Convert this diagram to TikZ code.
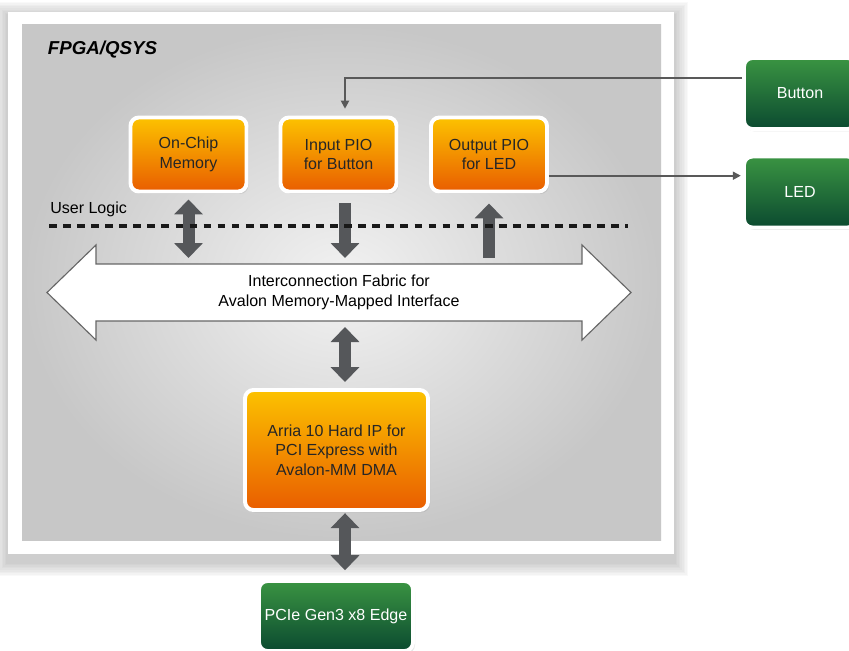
\documentclass[tikz,border=0pt]{standalone}
\usepackage{fontspec}
\setmainfont{Liberation Sans}
\usetikzlibrary{arrows.meta,shadows}
\definecolor{orangetop}{HTML}{FCC200}
\definecolor{orangebot}{HTML}{E95D00}
\definecolor{greentop}{HTML}{3A9442}
\definecolor{greenbot}{HTML}{0B4A30}
\definecolor{busgray}{HTML}{55575A}

\begin{document}
\begin{tikzpicture}[
  font=\fontsize{11.4}{13.8}\selectfont,
  ip/.style={draw=white, line width=2.8pt, rounded corners=6pt,
             top color=orangetop, bottom color=orangebot, text=black!85,
             align=center, minimum width=2.9cm, minimum height=1.85cm,
             drop shadow={opacity=0.2, shadow xshift=0.05cm, shadow yshift=-0.06cm}},
  pin/.style={ip, top color=greentop, bottom color=greenbot, text=white},
  bustip/.tip={Triangle[width=0.7cm, length=0.375cm]},
  bus/.style={draw=busgray, line width=0.3cm, shorten <=0.15cm, shorten >=0.15cm},
  wire/.style={draw=black!65, line width=1.3pt, -{Triangle[width=0.2cm, length=0.2cm]}}
]
\useasboundingbox (0,0) rectangle (21.225,-16.25);

% board and FPGA area
\foreach \d in {0.04,0.08,...,0.4}
  \fill[black, opacity=0.022] (0.2-\d,-0.4+\d) rectangle (16.85+\d,-14.05-\d);
\fill[white] (0.2,-0.3) rectangle (16.85,-13.85);
\shade[inner color=black!5, outer color=black!22] (0.55,-0.6) rectangle (16.525,-13.5);
\node[anchor=west, font=\fontsize{13.3}{16}\selectfont\bfseries\itshape] (fpga) at (1.075,-1.25) {FPGA/QSYS};

% interconnect
\draw[fill=white, draw=black!60, line width=0.8pt]
  (2.4,-6.6) -- (14.55,-6.6) -- (14.55,-6.125) -- (15.775,-7.3125) -- (14.55,-8.5)
  -- (14.55,-8.025) -- (2.4,-8.025) -- (2.4,-8.5) -- (1.175,-7.3125) -- (2.4,-6.125) -- cycle;
\node[align=center, inner sep=0pt, outer sep=0pt, minimum width=12.15cm, minimum height=1.425cm]
  (fabric) at (8.475,-7.3125) {Interconnection Fabric for\\Avalon Memory-Mapped Interface};

% components
\node[ip] (onchip) at (4.7125,-3.8625) {On-Chip\\Memory};
\node[ip] (inpio) at (8.4625,-3.8625)  {Input PIO\\for Button};
\node[ip] (outpio) at (12.225,-3.8625) {Output PIO\\for LED};
\node[ip, minimum width=4.575cm, minimum height=3.0cm] (arria) at (8.4125,-11.25)
  {Arria 10 Hard IP for\\PCI Express with\\Avalon-MM DMA};

% board parts
\node[pin, minimum width=2.8cm, minimum height=1.775cm] (button) at (20.0,-2.3375) {Button};
\node[pin, minimum width=2.8cm, minimum height=1.775cm] (led) at (20.0,-4.8) {LED};
\node[pin, minimum width=3.85cm, minimum height=1.75cm] (pcie) at (8.4,-15.4) {PCIe Gen3 x8 Edge};

\coordinate (spine) at (8.625,0);

% buses
\draw[bus, bustip-bustip] (onchip.south) -- (onchip.south |- fabric.north);
\draw[bus, -bustip, shorten <=0.25cm] (inpio.south -| spine) -- (fabric.north -| spine);
\draw[bus, bustip-, shorten <=0.25cm] (outpio.south) -- (outpio.south |- fabric.north);
\draw[bus, bustip-bustip] (fabric.south -| spine) -- (arria.north -| spine);
\draw[bus, bustip-bustip, shorten <=0.03cm, shorten >=0.22cm] (arria.south -| spine) -- (pcie.north -| spine);

% pins
\draw[wire, shorten >=0.17cm] ([yshift=0.39cm]button.west) -| (inpio.north -| spine);
\draw[wire, shorten >=0.03cm] ([yshift=-0.53cm]outpio.east) -- ([yshift=-0.53cm]outpio.east -| led.west);

% user logic boundary
\coordinate (ulwest) at (1.225,-5.65);
\coordinate (uleast) at (15.7,-5.65);
\draw[black!90, line width=2.2pt, dash pattern=on 5.5pt off 4.5pt] (ulwest) -- (uleast);
\node[anchor=west, inner sep=0pt] (userlogic) at (1.25,-5.225) {User Logic};

\end{tikzpicture}
\end{document}
